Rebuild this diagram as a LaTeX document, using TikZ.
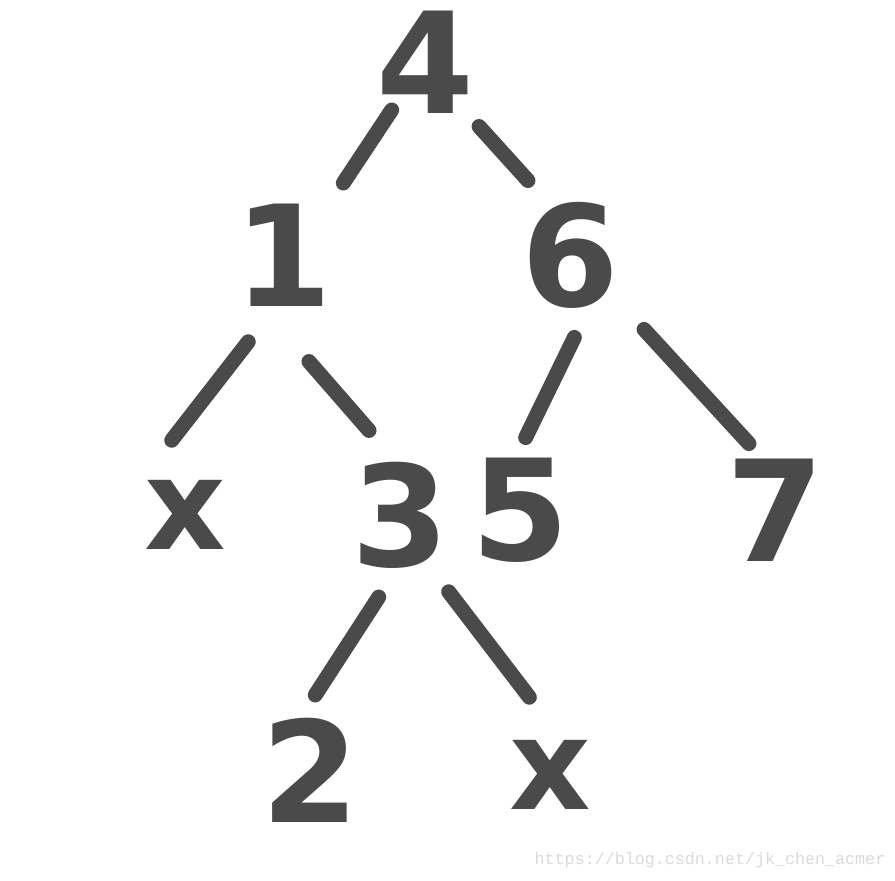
\documentclass[tikz,border=0pt]{standalone}
\usepackage{fontspec}
\setmainfont{DejaVu Sans}
\newfontfamily\markfont{Liberation Mono}
\usetikzlibrary{positioning}

\definecolor{inkgray}{HTML}{4A4A4A}
\definecolor{markgray}{HTML}{DADADA}

\tikzset{
  key/.style={circle, minimum size=2.4cm, inner sep=0pt, text=inkgray,
    font=\fontsize{80}{80}\selectfont\bfseries},
  nil/.style={key, font=\fontsize{72}{72}\selectfont\bfseries},
  branch/.style={draw=inkgray, line width=8.5pt, line cap=round,
    shorten >=0.12cm, shorten <=0.12cm},
}

\begin{document}
\begin{tikzpicture}[node distance=3.7cm, on grid]
        \useasboundingbox (0,0) rectangle (17.9,-17.62);
        \node[key] (four) at (8.5,-1.24) {4};
        \node[key, below left=3.86cm and 2.84cm of four] (one) {1};
        \node[key, below right=3.86cm and 2.9cm of four] (six) {6};
        \node[nil, below left=5.2cm and 1.96cm of one] (nilA) {x};
        \node[key, below right=5.2cm and 2.34cm of one] (three) {3};
        \node[key, below left=5.1cm and 1.0cm of six] (five) {5};
        \node[key, below right=5.1cm and 4.1cm of six] (seven) {7};
        \node[key, below left=5.1cm and 1.8cm of three] (two) {2};
        \node[nil, below right=5.2cm and 3.0cm of three] (nilB) {x};
        \draw[branch] ([shift={(-0.6,-0.86)}]four.center) -- ([shift={(1.14,1.34)}]one.center);
        \draw[branch] ([shift={(1.0,-1.2)}]four.center) -- ([shift={(-0.76,1.4)}]six.center);
        \draw[branch] ([shift={(-0.62,-1.64)}]one.center) -- ([shift={(-0.34,1.4)}]nilA.center);
        \draw[branch] ([shift={(0.44,-2.04)}]one.center) -- ([shift={(-0.54,1.6)}]three.center);
        \draw[branch] ([shift={(0.14,-1.54)}]six.center) -- ([shift={(0.06,1.34)}]five.center);
        \draw[branch] ([shift={(1.4,-1.4)}]six.center) -- ([shift={(-0.44,1.24)}]seven.center);
        \draw[branch] ([shift={(-0.36,-1.54)}]three.center) -- ([shift={(0.04,1.4)}]two.center);
        \draw[branch] ([shift={(0.9,-1.44)}]three.center) -- ([shift={(-0.34,1.46)}]nilB.center);
        % watermark
        \node[text=markgray, font=\markfont\fontsize{9.5}{10}\selectfont] (mark)
          at (14.2,-17.2) {https://blog.csdn.net/jk\_chen\_acmer};
      \end{tikzpicture}
\end{document}
